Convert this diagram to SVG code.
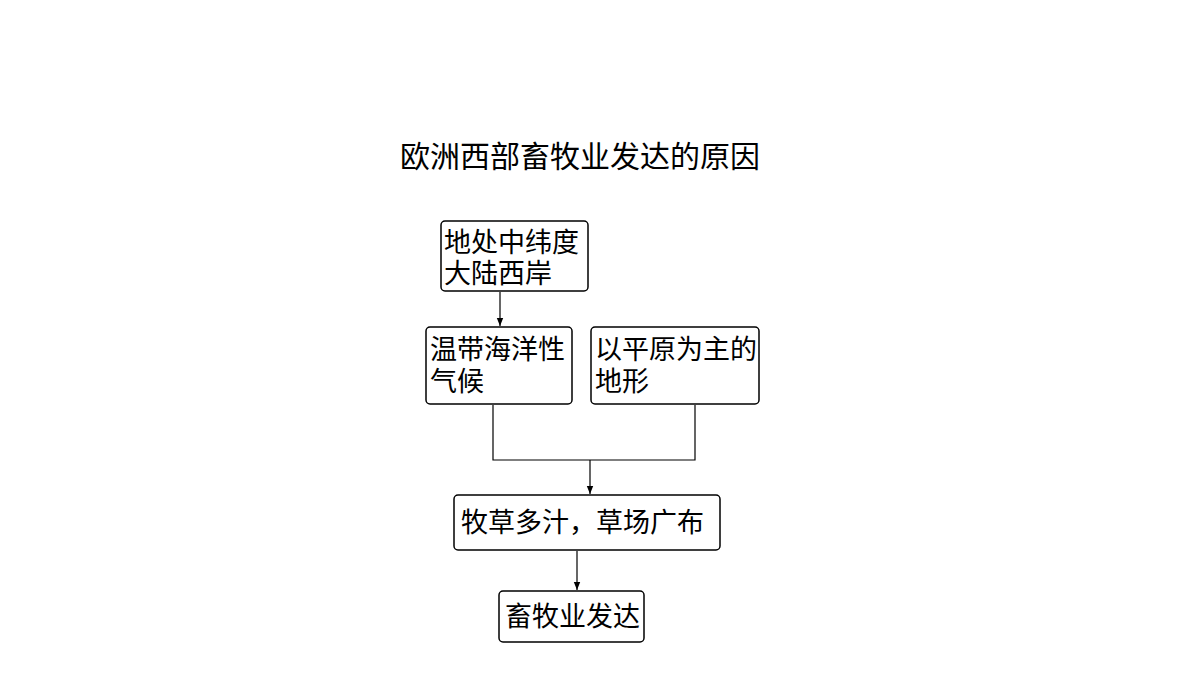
<svg xmlns="http://www.w3.org/2000/svg" width="1200" height="675" viewBox="0 0 1200 675">
<style>
text{font-family:"Noto Sans CJK SC","Noto Sans",sans-serif;font-size:27px;fill:#000}
.b{fill:#fff;stroke:#000;stroke-width:1.5}
.l{fill:none;stroke:#000;stroke-width:1.2}
</style>
<defs><marker id="a" viewBox="0 0 10 10" refX="10" refY="5" markerWidth="7" markerHeight="7" orient="auto"><path d="M0,1 L10,5 L0,9 Z" fill="#000"/></marker></defs>
<rect width="1200" height="675" fill="#fff"/>
<text x="400" y="167" style="font-size:30px">欧洲西部畜牧业发达的原因</text>
<g id="connectors">
<line class="l" x1="500" y1="292" x2="500" y2="326" marker-end="url(#a)"/>
<polyline class="l" points="493,405 493,460 695,460 695,405"/>
<line class="l" x1="590" y1="460" x2="590" y2="494" marker-end="url(#a)"/>
<line class="l" x1="577" y1="551" x2="577" y2="590" marker-end="url(#a)"/>
</g>
<g id="n1"><rect class="b" x="441" y="221" width="147" height="70" rx="4"/><text x="444" y="252">地处中纬度</text><text x="444" y="283">大陆西岸</text></g>
<g id="n2"><rect class="b" x="426" y="327" width="146" height="77" rx="4"/><text x="430" y="359">温带海洋性</text><text x="430" y="391">气候</text></g>
<g id="n3"><rect class="b" x="591" y="327" width="168" height="77" rx="4"/><text x="595" y="359">以平原为主的</text><text x="595" y="391">地形</text></g>
<g id="n4"><rect class="b" x="454" y="495" width="266" height="55" rx="4"/><text x="461" y="532">牧草多汁，草场广布</text></g>
<g id="n5"><rect class="b" x="499" y="591" width="145" height="51" rx="4"/><text x="505" y="626">畜牧业发达</text></g>
</svg>
